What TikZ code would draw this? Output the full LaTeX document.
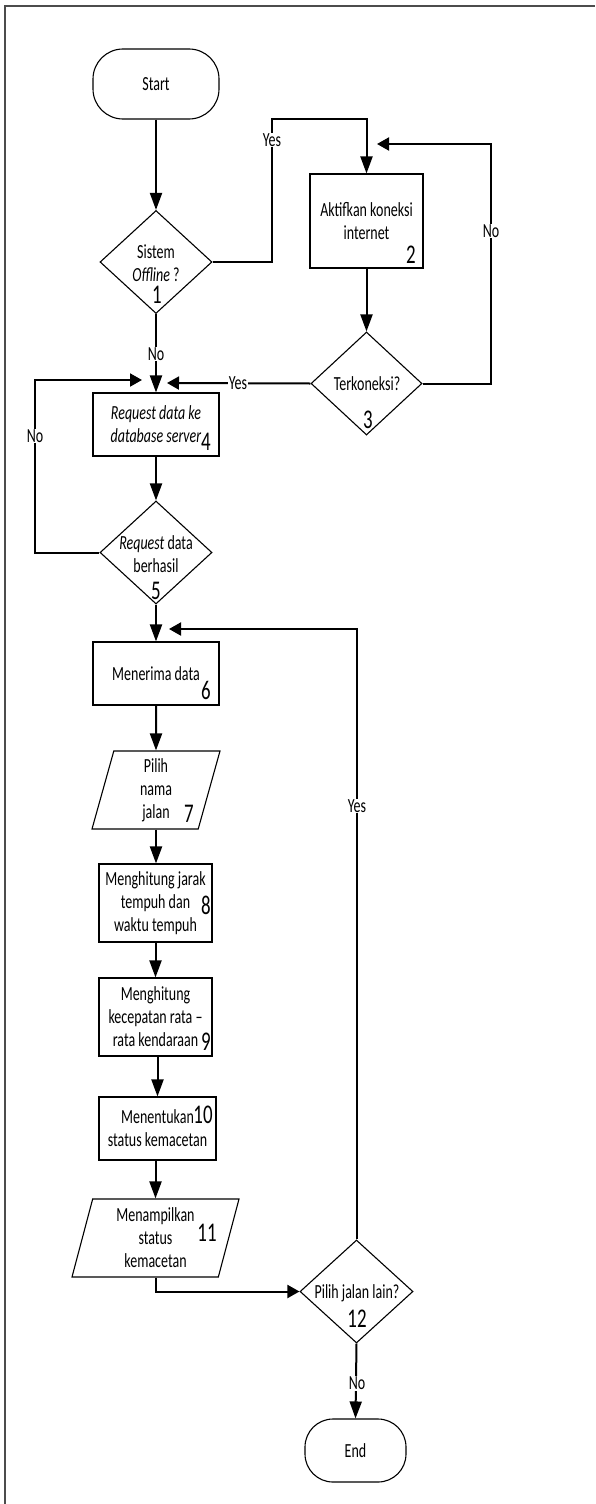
\documentclass[tikz,border=0pt]{standalone}
\usepackage{fontspec}
\setmainfont{Carlito}[FakeStretch=0.7]
\usetikzlibrary{shapes.geometric,arrows.meta}

\begin{document}
\begin{tikzpicture}[x=1pt,y=-1pt,
        every node/.append style={font=\fontsize{20}{23}\selectfont},
        proc/.style={draw,line width=1.1pt,minimum width=126pt,minimum height=63pt,align=center,inner sep=0pt},
        decision/.style={draw,diamond,line width=1.1pt,minimum width=112pt,minimum height=103pt,inner sep=0pt},
        io/.style={draw,trapezium,trapezium left angle=71,trapezium right angle=109,trapezium stretches body,line width=1.1pt,align=center,inner sep=0pt},
        term/.style={draw,rectangle,rounded corners=30pt,line width=1.1pt},
        txt/.style={align=center,inner sep=0pt},
        num/.style={font=\fontsize{27}{27}\selectfont,inner sep=0pt},
        lbl/.style={fill=white,inner sep=1pt},
        conn/.style={line width=2pt},
        varr/.style={conn,-{Triangle[length=17pt,width=12pt]}},
        harr/.style={conn,-{Triangle[length=12pt,width=13pt]}}
        ]
        \useasboundingbox (0,0) rectangle (595,1504);
        \draw[line width=1.3pt,black!70] (5,1504) -- (5,6) -- (595,6); % frame

        % main column
        \node[term,minimum width=126pt,minimum height=70pt] (start) at (156,84) {Start};
        \node[decision] (d1) at (156,262) {};
        \node[txt] (t1) at (156,263) {Sistem\\\textit{Offline} ?};
        \node[num] (n1) at (157,295) {1};
        \node[proc] (b4) at (156,424.5) {\textit{Request data ke}\\\textit{database server}};
        \node[num] (n4) at (206,442) {4};
        \node[decision] (d5) at (156,552.5) {};
        \node[txt] (t5) at (156,554) {\textit{Request} data\\berhasil};
        \node[num] (n5) at (156,591) {5};
        \node[proc] (b6) at (156,673.5) {Menerima data};
        \node[num] (n6) at (206,690) {6};
        \node[io,minimum width=128pt,minimum height=78pt] (p7) at (156,790) {Pilih\\nama\\jalan};
        \node[num] (n7) at (189,814) {7};
        \node[proc,minimum width=113pt,minimum height=78pt] (b8) at (155.5,903) {Menghitung jarak\\tempuh dan\\waktu tempuh};
        \node[num] (n8) at (206,905) {8};
        \node[proc,minimum width=113pt,minimum height=78pt] (b9) at (155.5,1017) {Menghitung\\kecepatan rata --\\rata kendaraan};
        \node[num] (n9) at (206,1042) {9};
        \node[proc,minimum width=117pt,minimum height=63pt] (b10) at (157.5,1128.5) {Menentukan\\status kemacetan};
        \node[num] (n10) at (203,1115) {10};
        \node[io,minimum width=167pt,minimum height=78pt] (p11) at (155.5,1238) {Menampilkan\\status\\kemacetan};
        \node[num] (n11) at (207,1233) {11};

        % right column
        \node[proc,minimum width=113pt,minimum height=94pt] (b2) at (366.5,221) {Aktifkan koneksi\\internet};
        \node[num] (n2) at (411,255) {2};
        \node[decision,minimum width=111pt] (d3) at (366.5,383.5) {};
        \node[txt] (t3) at (367,384) {Terkoneksi?};
        \node[num] (n3) at (368,420) {3};
        \node[decision,minimum width=113pt] (d12) at (356.5,1291.5) {};
        \node[txt] (t12) at (357,1293) {Pilih jalan lain?};
        \node[num] (n12) at (357,1319) {12};
        \node[term,minimum width=101pt,minimum height=63pt,rounded corners=28pt] (end) at (355.5,1450.5) {End};

        % free ends of the loops
        \coordinate (m2) at (377,144);
        \coordinate (m4r) at (167,383);
        \coordinate (m4l) at (142,380);
        \coordinate (m6) at (169,629);

        % connectors
        \draw[varr] (start.south) -- (d1.north);
        \draw[varr] (d1.east) -| (272,119) -| (b2.north);
        \draw[varr] (b2.south) -- (d3.north);
        \draw[harr] (d3.east) -| (491,144) -- (m2);
        \draw[harr] (d3.west) -- (m4r);
        \draw[varr] (d1.south) -- (b4.north);
        \draw[varr] (b4.south) -- (d5.north);
        \draw[harr] (d5.west) -| (35,380) -- (m4l);
        \draw[varr] (d5.south) -- (b6.north);
        \draw[varr] (b6.south) -- (p7.north);
        \draw[varr] (p7.south) -- (p7.south |- b8.north);
        \draw[varr] (b8.south) -- (b9.north);
        \draw[varr] (b9.south -| b10.north) -- (b10.north);
        \draw[varr] (b10.south -| p11.north) -- (p11.north);
        \draw[harr] (p11.south) |- (d12.west);
        \draw[harr] (d12.north) |- (m6);
        \draw[varr] (d12.south) -- (end.north);

        % branch labels
        \node[lbl] (y1) at (272,140) {Yes};
        \node[lbl] (no1) at (156,354) {No};
        \node[lbl] (no3) at (491,231) {No};
        \node[lbl] (y3) at (238,383) {Yes};
        \node[lbl] (no5) at (35,436) {No};
        \node[lbl] (y12) at (357,806) {Yes};
        \node[lbl] (no12) at (357,1383) {No};
\end{tikzpicture}
\end{document}
